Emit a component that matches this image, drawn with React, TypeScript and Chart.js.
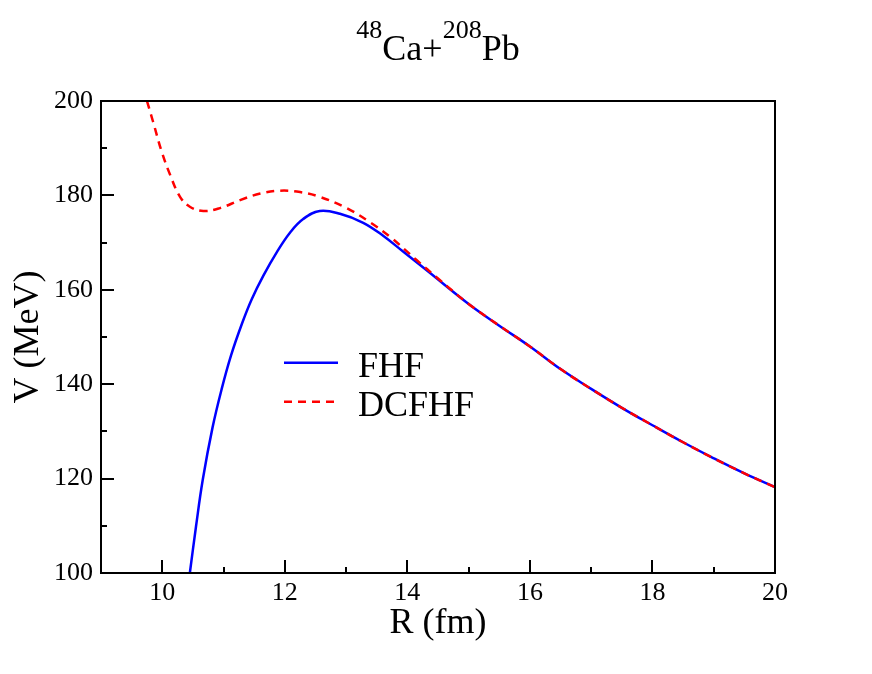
import React, { useEffect, useRef } from 'react';
import { Chart, registerables } from 'chart.js';

Chart.register(...registerables);

// FHF potential (R in fm, V in MeV)
const fhfR = [10.45, 10.55, 10.66, 10.82, 10.97, 11.12, 11.3, 11.46, 11.65, 11.87, 12.09, 12.3, 12.57, 12.9, 13.28, 13.61, 13.93, 14.31, 15, 15.5, 16, 16.5, 17, 17.5, 18, 18.5, 19, 19.5, 20];
const fhfV = [100, 109.8, 119.7, 130.8, 139.0, 146.0, 152.8, 158.0, 163.0, 168.0, 172.2, 175.0, 176.7, 176.1, 174.2, 171.4, 168.1, 164.2, 157.0, 152.4, 148.0, 143.2, 139.0, 135.0, 131.3, 127.7, 124.3, 121.1, 118.2];

// DCFHF potential
const dcR = [9.75, 9.85, 9.99, 10.13, 10.29, 10.45, 10.67, 10.94, 11.27, 11.6, 11.92, 12.25, 12.57, 13.01, 13.39, 13.72, 14.15, 14.5, 15, 15.5, 16, 16.5, 17, 17.5, 18, 18.5, 19, 19.5, 20];
const dcV = [200, 195.6, 189.3, 184.3, 179.7, 177.6, 176.7, 177.3, 179.0, 180.4, 181.0, 180.7, 179.7, 177.3, 174.3, 171.2, 166.3, 162.4, 157.0, 152.4, 148.0, 143.2, 139.0, 135.0, 131.3, 127.7, 124.3, 121.1, 118.2];

const seriesNames = ['FHF', 'DCFHF'];
const xLabelTicks = [10, 12, 14, 16, 18, 20];
const yLabelTicks = [100, 120, 140, 160, 180, 200];
const xTitle = 'R (fm)';
const yTitle = 'V (MeV)';

const FONT = "'Liberation Serif', 'Times New Roman', serif";

const decor = {
  id: 'decor',
  afterDatasetsDraw(chart: any) {
    const { ctx, chartArea: a, scales } = chart;
    const x = scales.x;
    const y = scales.y;
    ctx.save();
    ctx.strokeStyle = '#000';
    ctx.lineWidth = 2;
    ctx.strokeRect(a.left, a.top, a.right - a.left, a.bottom - a.top);

    ctx.beginPath();
    x.ticks.forEach((t: any) => {
      const px = Math.round(x.getPixelForValue(t.value));
      if (px <= a.left + 1 || px >= a.right - 1) return;
      const len = xLabelTicks.includes(t.value) ? 13 : 6;
      ctx.moveTo(px, a.bottom);
      ctx.lineTo(px, a.bottom - len);
    });
    y.ticks.forEach((t: any) => {
      const py = Math.round(y.getPixelForValue(t.value));
      if (py <= a.top + 1 || py >= a.bottom - 1) return;
      const len = yLabelTicks.includes(t.value) ? 13 : 6;
      ctx.moveTo(a.left, py);
      ctx.lineTo(a.left + len, py);
    });
    ctx.stroke();

    // title with superscripts
    const parts = [
      { t: '48', sup: true },
      { t: 'Ca+', sup: false },
      { t: '208', sup: true },
      { t: 'Pb', sup: false },
    ];
    const mainF = `36px ${FONT}`;
    const supF = `26px ${FONT}`;
    let total = 0;
    parts.forEach((p) => {
      ctx.font = p.sup ? supF : mainF;
      total += ctx.measureText(p.t).width;
    });
    let cx = (a.left + a.right) / 2 - total / 2;
    ctx.fillStyle = '#000';
    ctx.textBaseline = 'alphabetic';
    ctx.textAlign = 'left';
    parts.forEach((p) => {
      ctx.font = p.sup ? supF : mainF;
      ctx.fillText(p.t, cx, p.sup ? 38 : 60);
      cx += ctx.measureText(p.t).width;
    });

    // axis titles
    ctx.font = `36px ${FONT}`;
    ctx.textAlign = 'center';
    ctx.fillText(xTitle, (a.left + a.right) / 2, 633);
    ctx.save();
    ctx.translate(38, (a.top + a.bottom) / 2);
    ctx.rotate(-Math.PI / 2);
    ctx.fillText(yTitle, 0, 0);
    ctx.restore();

    // legend
    const ds = chart.data.datasets;
    const rows = [362.7, 401.7];
    ds.forEach((d: any, i: number) => {
      const yy = rows[i];
      ctx.save();
      ctx.strokeStyle = d.borderColor;
      ctx.lineWidth = 2.5;
      ctx.setLineDash(d.borderDash || []);
      ctx.beginPath();
      ctx.moveTo(284, yy);
      ctx.lineTo(338, yy);
      ctx.stroke();
      ctx.restore();
      ctx.font = `36px ${FONT}`;
      ctx.textAlign = 'left';
      ctx.textBaseline = 'alphabetic';
      ctx.fillStyle = '#000';
      ctx.fillText(d.label, 358, yy + 14.5);
    });
    ctx.restore();
  },
};

export default function App() {
  const ref = useRef<HTMLCanvasElement | null>(null);
  useEffect(() => {
    document.body.style.margin = '0';
    const canvas = ref.current!;
    const chart = new Chart(canvas, {
      type: 'line',
      data: {
        datasets: [
          {
            label: seriesNames[0],
            data: fhfR.map((r, i) => ({ x: r, y: fhfV[i] })),
            borderColor: '#0000ff',
            borderWidth: 2.5,
            pointRadius: 0,
            tension: 0.4,
            order: 2,
          },
          {
            label: seriesNames[1],
            data: dcR.map((r, i) => ({ x: r, y: dcV[i] })),
            borderColor: '#ff0000',
            borderWidth: 2.5,
            borderDash: [8, 6],
            pointRadius: 0,
            tension: 0.4,
            order: 1,
          },
        ],
      },
      options: {
        animation: false,
        responsive: false,
        devicePixelRatio: 1,
        layout: { padding: { left: 0, right: 97, top: 101, bottom: 0 } },
        plugins: { legend: { display: false }, tooltip: { enabled: false }, title: { display: false } },
        scales: {
          x: {
            type: 'linear',
            min: 9,
            max: 20,
            grid: { display: false },
            border: { display: false },
            ticks: {
              stepSize: 1,
              autoSkip: false,
              maxRotation: 0,
              padding: -3,
              color: '#000',
              font: { family: FONT, size: 26 },
              callback: (v: any) => (xLabelTicks.includes(Number(v)) ? String(v) : ''),
            },
            afterFit: (s: any) => {
              s.height = 101;
            },
          },
          y: {
            type: 'linear',
            min: 100,
            max: 200,
            grid: { display: false },
            border: { display: false },
            ticks: {
              stepSize: 10,
              autoSkip: false,
              padding: 0,
              color: '#000',
              font: { family: FONT, size: 26 },
              callback: (v: any) => (yLabelTicks.includes(Number(v)) ? String(v) : ''),
            },
            afterFit: (s: any) => {
              s.width = 101;
            },
          },
        },
      },
      plugins: [decor],
    });
    return () => chart.destroy();
  }, []);
  return <canvas ref={ref} width={872} height={674} style={{ display: 'block' }} />;
}
